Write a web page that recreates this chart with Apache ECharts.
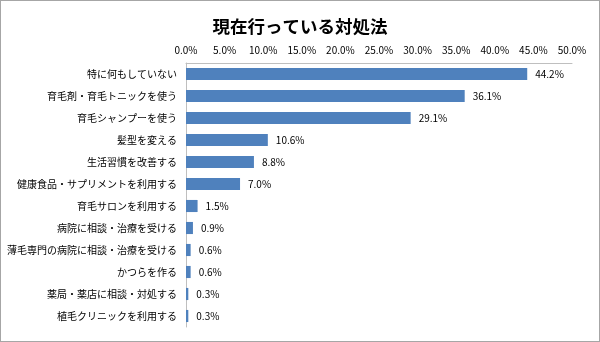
<!DOCTYPE html>
<html><head><meta charset="utf-8">
<script src="https://cdn.jsdelivr.net/npm/echarts@6/dist/echarts.min.js"></script>
<style>html,body{margin:0;padding:0;background:#fff}#c{width:600px;height:342px;box-sizing:border-box;border:1px solid #a6a6a6}</style>
</head><body><div id="c"></div>
<script>
const categories = ["特に何もしていない","育毛剤・育毛トニックを使う","育毛シャンプーを使う","髪型を変える","生活習慣を改善する","健康食品・サプリメントを利用する","育毛サロンを利用する","病院に相談・治療を受ける","薄毛専門の病院に相談・治療を受ける","かつらを作る","薬局・薬店に相談・対処する","植毛クリニックを利用する"];
const values = [44.2,36.1,29.1,10.6,8.8,7.0,1.5,0.9,0.6,0.6,0.3,0.3];
const axisMin = 0, axisMax = 50, axisStep = 5;
const font = '"Noto Sans CJK JP", sans-serif';
const chart = echarts.init(document.getElementById('c'), null, {renderer:'canvas'});
chart.setOption({
  animation:false,
  title:{text:'現在行っている対処法',left:'center',top:12,textStyle:{fontFamily:font,fontSize:17.5,fontWeight:'bold',color:'#000'}},
  grid:{left:185,right:27,top:62,bottom:14,containLabel:false,outerBoundsMode:'none'},
  xAxis:{type:'value',position:'top',min:axisMin,max:axisMax,interval:axisStep,
    axisLine:{show:true,lineStyle:{color:'#bfbfbf'}},axisTick:{show:false},splitLine:{show:false},
    axisLabel:{formatter:v=>v.toFixed(1)+'%',fontFamily:font,fontSize:10,color:'#000',margin:8}},
  yAxis:{type:'category',inverse:true,data:categories,
    axisLine:{show:true,lineStyle:{color:'#bfbfbf'}},axisTick:{show:false},
    axisLabel:{fontFamily:font,fontSize:10,color:'#000',margin:9}},
  series:[{type:'bar',data:values,barWidth:'55%',
    itemStyle:{color:'#4f81bd'},
    label:{show:true,position:'right',distance:8,formatter:p=>p.value.toFixed(1)+'%',fontFamily:font,fontSize:10,color:'#000'}}]
});
</script></body></html>
